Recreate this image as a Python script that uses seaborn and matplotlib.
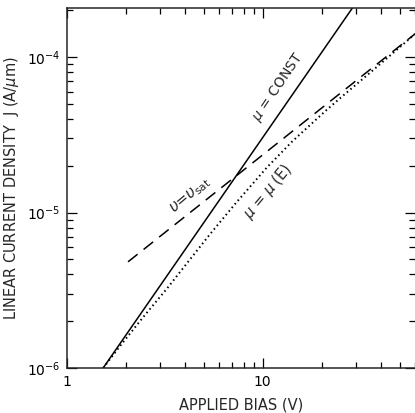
import numpy as np
import pandas as pd
import matplotlib
matplotlib.use("Agg")
import matplotlib.pyplot as plt
from matplotlib.ticker import LogLocator, NullFormatter, FixedLocator, FixedFormatter
import seaborn as sns

# ---- data ----
V_const = [1.53, 30.0]
J_const = [1.0e-6, 2.24e-4]

V_sat = [2.05, 60.0]
J_sat = [4.82e-6, 1.41e-4]

V_mu = [1.53, 1.93, 2.44, 3.24, 4.14, 5.37, 7.37, 10.5, 14.2, 21.2, 25.6, 35.2, 51.8, 60.0]
J_mu = [1.00e-6, 1.46e-6, 2.11e-6, 3.24e-6, 4.79e-6, 7.24e-6, 1.17e-5, 1.95e-5,
        2.88e-5, 4.57e-5, 5.62e-5, 7.9e-5, 1.20e-4, 1.41e-4]

x_ticks = [1, 10]
x_tick_labels = ["1", "10"]
y_ticks = [1e-6, 1e-5, 1e-4]
y_tick_labels = [r"$10^{-6}$", r"$10^{-5}$", r"$10^{-4}$"]

sns.set_style("ticks")
plt.rcParams['font.family'] = ['DejaVu Sans']
plt.rcParams['mathtext.fontset'] = 'dejavusans'

fig = plt.figure(figsize=(4.15, 4.13), dpi=100)
ax = fig.add_axes([67/415, 45/413, 348/415, 360/413])

df_c = pd.DataFrame({"V": V_const, "J": J_const})
df_s = pd.DataFrame({"V": V_sat, "J": J_sat})
df_m = pd.DataFrame({"V": V_mu, "J": J_mu})

sns.lineplot(data=df_c, x="V", y="J", ax=ax, color="black", lw=1.1, sort=False)
sns.lineplot(data=df_s, x="V", y="J", ax=ax, color="black", lw=1.1, sort=False,
             linestyle=(0, (8, 5)))
sns.lineplot(data=df_m, x="V", y="J", ax=ax, color="black", lw=1.4, sort=False,
             linestyle=(0, (0.8, 1.6)))

ax.set_xscale("log")
ax.set_yscale("log")
ax.set_xlim(1, 60)
ax.set_ylim(1e-6, 2.07e-4)

ax.xaxis.set_major_locator(FixedLocator(x_ticks))
ax.xaxis.set_major_formatter(FixedFormatter(x_tick_labels))
ax.xaxis.set_minor_locator(LogLocator(base=10, subs=np.arange(2, 10)))
ax.xaxis.set_minor_formatter(NullFormatter())
ax.yaxis.set_major_locator(FixedLocator(y_ticks))
ax.yaxis.set_major_formatter(FixedFormatter(y_tick_labels))
ax.yaxis.set_minor_locator(LogLocator(base=10, subs=np.arange(2, 10)))
ax.yaxis.set_minor_formatter(NullFormatter())

ax.tick_params(which="both", direction="in", top=True, right=True, width=0.9,
               labelsize=10, colors="black")
ax.tick_params(which="major", length=7, pad=5)
ax.tick_params(which="minor", length=4.5)
for s in ["left", "bottom", "top"]:
    ax.spines[s].set_linewidth(1.1)
ax.spines["right"].set_visible(False)

ax.set_xlabel("APPLIED BIAS (V)", fontsize=10.5, labelpad=6)
ax.set_ylabel("LINEAR CURRENT DENSITY  J (A/$\\mu$m)", fontsize=10.5, labelpad=4)

ax.text(12.0, 6.4e-5, r"$\mu$ = CONST", rotation=56, ha="center", va="center",
        fontsize=10, rotation_mode="anchor")
ax.text(4.3, 1.28e-5, r"$\upsilon$=$\upsilon_{\rm sat}$", rotation=40, ha="center",
        va="center", fontsize=11, rotation_mode="anchor")
ax.text(10.6, 1.37e-5, r"$\mu$ = $\mu$ (E)", rotation=50, ha="center", va="center",
        fontsize=10.5, rotation_mode="anchor")

fig.savefig("out.png", dpi=100)
